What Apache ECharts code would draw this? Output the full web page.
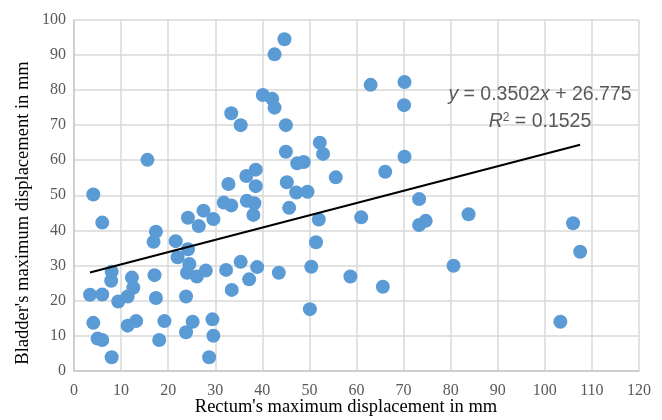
<!DOCTYPE html>
<html><head><meta charset="utf-8">
<script src="https://cdn.jsdelivr.net/npm/echarts@6/dist/echarts.min.js"></script>
<style>html,body{margin:0;padding:0;background:#fff}#c{width:662px;height:420px}</style>
</head><body><div id="c"></div>
<script>
const rectumX = [4.1,6.0,15.6,42.6,44.7,33.4,35.4,40.1,42.1,42.6,45.0,63.0,70.2,70.1,52.2,52.9,45.0,47.4,48.8,55.6,66.1,70.2,38.6,36.6,32.8,38.6,45.2,47.2,49.6,73.3,31.8,33.4,36.7,38.3,38.1,27.5,29.6,24.2,26.5,17.4,16.9,21.6,22.0,24.2,24.5,24.0,26.1,28.0,32.3,35.4,33.5,37.2,38.9,8.0,7.9,3.4,6.0,9.4,11.4,12.3,12.6,17.1,17.4,23.8,4.1,5.0,6.0,8.0,11.4,13.2,18.1,19.2,23.8,25.2,28.7,29.4,29.6,45.7,52.0,61.0,73.3,74.7,51.4,43.5,50.4,58.7,65.6,50.1,80.6,83.8,106.0,107.5,103.3];
const bladderY = [50.2,42.2,60.1,90.2,94.5,73.4,70.0,78.6,77.5,75.0,70.0,81.5,82.3,75.7,65.0,61.8,62.4,59.1,59.5,55.1,56.7,61.0,57.3,55.5,53.2,52.6,53.7,50.8,51.0,48.9,47.9,47.1,48.4,47.7,44.4,45.6,43.2,43.6,41.2,39.6,36.7,36.9,32.3,34.6,30.4,27.9,26.8,28.5,28.7,31.0,23.0,26.0,29.5,28.2,25.6,21.6,21.7,19.7,21.1,26.5,23.6,27.2,20.7,21.1,13.6,9.1,8.7,3.8,12.8,14.1,8.7,14.1,10.9,13.9,3.8,14.6,9.9,46.4,43.1,43.7,41.5,42.7,36.6,27.9,29.6,26.8,23.9,17.5,29.9,44.6,42.0,33.9,13.9];
const slope = 0.3502, intercept = 26.775, r2 = 0.1525;
const xTitle = "Rectum's maximum displacement in mm";
const yTitle = "Bladder's maximum displacement in mm";

const points = rectumX.map((x, i) => [x, bladderY[i]]);
const xMin = Math.min(...rectumX), xMax = Math.max(...rectumX);
const trend = [[xMin, slope * xMin + intercept], [xMax, slope * xMax + intercept]];

const chart = echarts.init(document.getElementById('c'));
const gridC = '#d9d9d9', axisC = '#c8c8c8';
const eqFont = '19.5px "Liberation Sans"';
const italic = { fontStyle: 'italic', fontSize: 19.5, fontFamily: 'Liberation Sans', fill: '#595959' };
chart.setOption({
  animation: false,
  grid: { left: 74, right: 23, top: 20, bottom: 49.5 },
  xAxis: {
    type: 'value', min: 0, max: 120, interval: 10,
    axisLine: { show: true, lineStyle: { color: axisC, width: 1.5 } },
    axisTick: { show: false },
    splitLine: { show: true, lineStyle: { color: gridC, width: 1.5 } },
    axisLabel: { fontFamily: 'Liberation Serif', fontSize: 16, color: '#595959', margin: 12 }
  },
  yAxis: {
    type: 'value', min: 0, max: 100, interval: 10,
    axisLine: { show: true, lineStyle: { color: axisC, width: 1.5 } },
    axisTick: { show: false },
    splitLine: { show: true, lineStyle: { color: gridC, width: 1.5 } },
    axisLabel: { fontFamily: 'Liberation Serif', fontSize: 16, color: '#595959', margin: 8 }
  },
  series: [
    { type: 'scatter', data: points, symbolSize: 14, itemStyle: { color: '#5b9bd5', opacity: 1 }, z: 2 },
    { type: 'line', data: trend, symbol: 'none', lineStyle: { color: '#000', width: 2.2 }, z: 3 }
  ],
  graphic: [
    { type: 'text', x: 346, y: 407, z: 10, style: {
      text: xTitle, fill: '#000', font: '18.5px "Liberation Serif"', textAlign: 'center', textVerticalAlign: 'middle' } },
    { type: 'text', x: 23, y: 213, rotation: Math.PI / 2, z: 10, style: {
      text: yTitle, fill: '#000', font: '18.5px "Liberation Serif"', textAlign: 'center', textVerticalAlign: 'middle' } },
    { type: 'text', x: 540, y: 95, z: 10, style: {
      text: '{i|y} = 0.3502{i|x} + 26.775', fill: '#595959', font: eqFont,
      textAlign: 'center', textVerticalAlign: 'middle',
      rich: { i: italic }
    } },
    { type: 'text', x: 540, y: 121.5, z: 10, style: {
      text: '{i|R}{s|2} = ' + r2.toFixed(4), fill: '#595959', font: eqFont,
      textAlign: 'center', textVerticalAlign: 'middle',
      rich: { i: italic,
              s: { fontSize: 12, fontFamily: 'Liberation Sans', fill: '#595959', verticalAlign: 'top', padding: [0,0,8,0] } }
    } }
  ]
});
</script></body></html>
